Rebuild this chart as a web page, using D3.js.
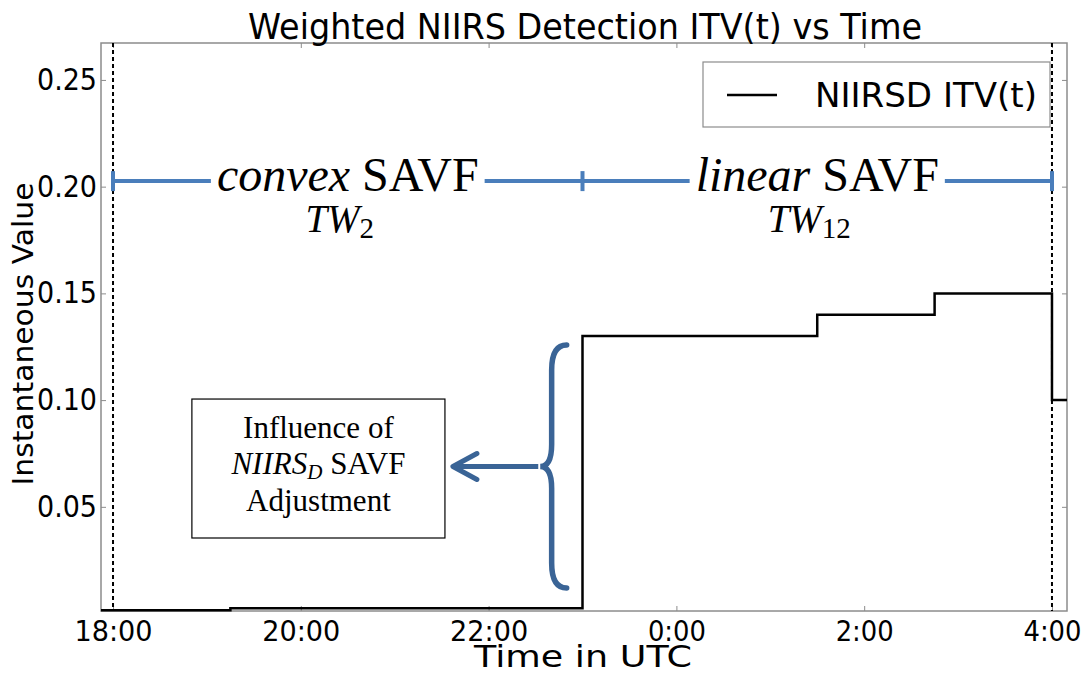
<!DOCTYPE html>
<html>
<head>
<meta charset="utf-8" />
<title>Weighted NIIRS Detection ITV(t) vs Time</title>
<script src="https://d3js.org/d3.v7.min.js"></script>
<style>
    body { margin: 0; background: #fff; }
    text { font-family: "DejaVu Sans", sans-serif; fill: #000; }
    .serif { font-family: "Liberation Serif", "DejaVu Serif", serif; }
</style>
</head>
<body>
<svg class="chart"></svg>
<script>
    // step series: hours (24+ = next day) and instantaneous values
    var stepTimes  = [17.872, 19.25, 23.0, 25.5, 26.75, 28.0, 28.16];
    var stepValues = [0.0015, 0.0025, 0.13, 0.14, 0.15, 0.10, 0.10];

    var xTickValues = [18, 20, 22, 24, 26, 28];
    var xTickLabels = ["18:00", "20:00", "22:00", "0:00", "2:00", "4:00"];
    var yTickValues = [0.05, 0.10, 0.15, 0.20, 0.25];

    // time windows (dashed limits and blue annotation bar)
    var windowBounds = [18, 23, 28];
    var windowNames  = ["convex", "linear"];
    var windowSubs   = ["2", "12"];
    var windowLevel  = 0.2026;

    var braceRange = [0.1258, 0.012];
    var noteLines  = ["Influence of", "NIIRS", "Adjustment"];

    var svgWidth = 1086, svgHeight = 674;
    var margin = {top: 43, right: 19, bottom: 63, left: 101};
    var width = svgWidth - margin.left - margin.right;
    var height = svgHeight - margin.top - margin.bottom;

    var svg = d3.select(".chart").attr("width", svgWidth).attr("height", svgHeight);
    var chart = svg.append("g").attr("transform", "translate(" + margin.left + "," + margin.top + ")");

    var xScale = d3.scaleLinear().domain([17.872, 28.16]).range([0, width]);
    var yScale = d3.scaleLinear().domain([0.0012, 0.2673]).range([height, 0]);

    // frame + inward ticks on all sides
    var frameColor = "#8c8c8c";
    var xAxisB = d3.axisBottom(xScale).tickValues(xTickValues)
        .tickFormat((d, i) => xTickLabels[i]).tickSizeInner(-5).tickSizeOuter(0).tickPadding(9);
    var xAxisT = d3.axisTop(xScale).tickValues(xTickValues).tickFormat("").tickSizeInner(-5).tickSizeOuter(0);
    var yAxisL = d3.axisLeft(yScale).tickValues(yTickValues)
        .tickFormat(d3.format(".2f")).tickSizeInner(-5).tickSizeOuter(0).tickPadding(4);
    var yAxisR = d3.axisRight(yScale).tickValues(yTickValues).tickFormat("").tickSizeInner(-5).tickSizeOuter(0);

    var gx = chart.append("g").attr("transform", "translate(0," + height + ")").call(xAxisB);
    chart.append("g").call(xAxisT);
    var gy = chart.append("g").call(yAxisL);
    chart.append("g").attr("transform", "translate(" + width + ",0)").call(yAxisR);
    chart.selectAll(".domain").remove();
    chart.selectAll(".tick line").attr("stroke", frameColor);

    gx.selectAll("text").attr("font-size", 29).attr("fill", "#000")
        .attr("textLength", 78).attr("lengthAdjust", "spacingAndGlyphs");
    gx.selectAll(".tick").filter(d => d >= 24).select("text").attr("textLength", 58);
    gy.selectAll("text").attr("font-size", 30).attr("fill", "#000")
        .attr("textLength", 60).attr("lengthAdjust", "spacingAndGlyphs");

    chart.append("rect").attr("width", width).attr("height", height)
        .attr("fill", "none").attr("stroke", frameColor).attr("stroke-width", 1.5);

    // dashed window limits
    var limits = [windowBounds[0], windowBounds[windowBounds.length - 1]];
    chart.selectAll(".limit").data(limits).enter()
        .append("line")
        .attr("x1", d => xScale(d)).attr("x2", d => xScale(d))
        .attr("y1", 0).attr("y2", height)
        .attr("stroke", "#000").attr("stroke-width", 2).attr("stroke-dasharray", "4,3");

    // step line
    var pts = stepTimes.map((t, i) => [t, stepValues[i]]);
    var line = d3.line().x(d => xScale(d[0])).y(d => yScale(d[1])).curve(d3.curveStepAfter);
    chart.append("path").datum(pts).attr("d", line)
        .attr("fill", "none").attr("stroke", "#000").attr("stroke-width", 2.5);

    // blue window bar
    var blue = "#4a7ebb";
    var yBar = yScale(windowLevel);
    chart.append("line")
        .attr("x1", xScale(windowBounds[0])).attr("x2", xScale(windowBounds[2]))
        .attr("y1", yBar).attr("y2", yBar).attr("stroke", blue).attr("stroke-width", 4);
    chart.selectAll(".cap").data(windowBounds).enter().append("line")
        .attr("x1", d => xScale(d)).attr("x2", d => xScale(d))
        .attr("y1", yBar - 10).attr("y2", yBar + 10)
        .attr("stroke", blue).attr("stroke-width", 4);

    windowNames.forEach(function (name, i) {
        var cx = (xScale(windowBounds[i]) + xScale(windowBounds[i + 1])) / 2;
        var bg = chart.append("rect").attr("fill", "#fff");
        var t = chart.append("text").attr("class", "serif").attr("x", cx).attr("y", yBar + 10)
            .attr("text-anchor", "middle").attr("font-size", 48);
        t.append("tspan").attr("font-style", "italic").text(name);
        t.append("tspan").text(" SAVF");
        var bb = t.node().getBBox();
        bg.attr("x", bb.x - 6).attr("y", yBar - 4).attr("width", bb.width + 12).attr("height", 8);

        var s = chart.append("text").attr("class", "serif").attr("x", cx - 8).attr("y", yBar + 51)
            .attr("text-anchor", "middle").attr("font-size", 39);
        s.append("tspan").attr("font-style", "italic").text("TW");
        s.append("tspan").attr("font-size", 29).attr("dy", 6).text(windowSubs[i]);
    });

    // brace and arrow
    var dark = "#3a6496";
    var bx = xScale(22.81), tipX = xScale(22.55);
    var yTop = yScale(braceRange[0]), yBot = yScale(braceRange[1]), yMid = (yTop + yBot) / 2;
    var innerX = bx - 13;
    var brace = d3.path();
    brace.moveTo(bx + 2, yTop);
    brace.quadraticCurveTo(innerX, yTop, innerX, yTop + 25);
    brace.lineTo(innerX, yMid - 22);
    brace.quadraticCurveTo(innerX, yMid, tipX, yMid);
    brace.quadraticCurveTo(innerX, yMid, innerX, yMid + 22);
    brace.lineTo(innerX, yBot - 25);
    brace.quadraticCurveTo(innerX, yBot, bx + 2, yBot);
    chart.append("path").attr("d", brace.toString()).attr("fill", "none")
        .attr("stroke", dark).attr("stroke-width", 5.5).attr("stroke-linecap", "round");

    var arrowEnd = xScale(21.62);
    chart.append("line").attr("x1", tipX - 2).attr("x2", arrowEnd + 2)
        .attr("y1", yMid).attr("y2", yMid).attr("stroke", dark).attr("stroke-width", 5);
    chart.append("path")
        .attr("d", "M" + (arrowEnd + 24) + "," + (yMid - 13) + "L" + arrowEnd + "," + yMid + "L" + (arrowEnd + 24) + "," + (yMid + 13))
        .attr("fill", "none").attr("stroke", dark).attr("stroke-width", 5)
        .attr("stroke-linecap", "round").attr("stroke-linejoin", "round");

    // note box
    var boxX0 = xScale(18.84), boxX1 = xScale(21.535);
    var boxY0 = yScale(0.1005), boxY1 = yScale(0.0354);
    chart.append("rect").attr("x", boxX0).attr("y", boxY0)
        .attr("width", boxX1 - boxX0).attr("height", boxY1 - boxY0)
        .attr("fill", "#fff").attr("stroke", "#000").attr("stroke-width", 1.2);
    var bcx = (boxX0 + boxX1) / 2;
    chart.append("text").attr("class", "serif").attr("x", bcx).attr("y", boxY0 + 39)
        .attr("text-anchor", "middle").attr("font-size", 31).text(noteLines[0]);
    var n2 = chart.append("text").attr("class", "serif").attr("x", bcx).attr("y", boxY0 + 75)
        .attr("text-anchor", "middle").attr("font-size", 31);
    n2.append("tspan").attr("font-style", "italic").text(noteLines[1]);
    n2.append("tspan").attr("font-style", "italic").attr("font-size", 21).attr("dy", 5).text("D");
    n2.append("tspan").attr("dy", -5).text(" SAVF");
    chart.append("text").attr("class", "serif").attr("x", bcx).attr("y", boxY0 + 112)
        .attr("text-anchor", "middle").attr("font-size", 31).text(noteLines[2]);

    // legend
    var lg = chart.append("g").attr("transform", "translate(" + (703 - margin.left) + "," + (62 - margin.top) + ")");
    lg.append("rect").attr("width", 347).attr("height", 65)
        .attr("fill", "#fff").attr("stroke", frameColor).attr("stroke-width", 1.2);
    lg.append("line").attr("x1", 24).attr("x2", 74).attr("y1", 33).attr("y2", 33)
        .attr("stroke", "#000").attr("stroke-width", 2.5);
    lg.append("text").attr("x", 112).attr("y", 45).attr("font-size", 33)
        .attr("textLength", 222).attr("lengthAdjust", "spacingAndGlyphs").text("NIIRSD ITV(t)");

    // right dashed limit drawn again over the legend (same dash phase)
    chart.append("line").attr("x1", xScale(limits[1])).attr("x2", xScale(limits[1]))
        .attr("y1", 0).attr("y2", 90)
        .attr("stroke", "#000").attr("stroke-width", 2).attr("stroke-dasharray", "4,3");

    // titles
    svg.append("text").attr("x", 248).attr("y", 39).attr("font-size", 35)
        .attr("textLength", 674).attr("lengthAdjust", "spacingAndGlyphs")
        .text("Weighted NIIRS Detection ITV(t) vs Time");
    svg.append("text").attr("x", 583).attr("y", 667).attr("text-anchor", "middle").attr("font-size", 30)
        .attr("textLength", 218).attr("lengthAdjust", "spacingAndGlyphs").text("Time in UTC");
    svg.append("text").attr("transform", "translate(33,334) rotate(-90)").attr("text-anchor", "middle")
        .attr("font-size", 28).attr("textLength", 303).attr("lengthAdjust", "spacingAndGlyphs")
        .text("Instantaneous Value");
</script>
</body>
</html>
